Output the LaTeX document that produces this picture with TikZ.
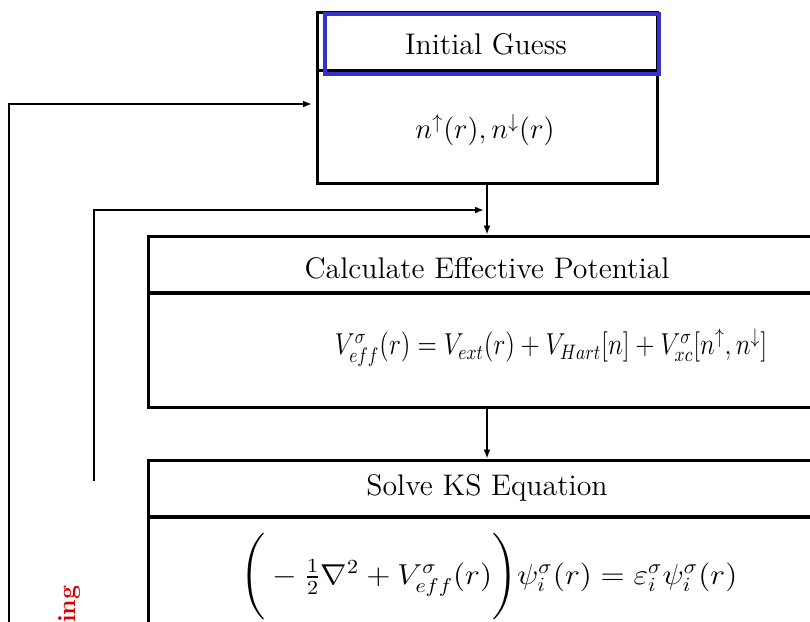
\documentclass[tikz,border=0pt]{standalone}
\usepackage{amsmath}
\usetikzlibrary{arrows.meta}
\begin{document}
\begin{tikzpicture}[x=0.5pt,y=-0.5pt,
  boxframe/.style={draw=black, line width=1.5pt, minimum height=85.5pt, inner sep=0pt},
  divider/.style={line width=2.4pt},
  label/.style={font=\fontsize{14.9}{18}\selectfont, inner sep=0pt},
  conn/.style={line width=0.8pt, -{Latex[length=4.5pt,width=3.5pt]}},
  loopline/.style={line width=1.1pt, -{Latex[length=4.5pt,width=3.5pt]}}]
\useasboundingbox (0,0) rectangle (810,622);
\fill[white] (0,0) rectangle (810,622);

% Initial guess box
\node[boxframe, minimum width=170pt] (ig) at (487,97.5) {};
\draw[line width=1.5pt] (317,70) -- (657,70);
\draw[draw={rgb,255:red,52;green,52;blue,200}, line width=2.2pt] (325,14) rectangle (659,74);
\node[label] (igt) at (486,44) {Initial Guess};
\node[label] (igv) at (485,130) {$n^{\uparrow}(r), n^{\downarrow}(r)$};

% Calculate effective potential box
\node[boxframe, minimum width=339pt] (calc) at (487,321.5) {};
\draw[divider] (148,293) -- (826,293);
\node[label] (calct) at (487,268) {Calculate Effective Potential};
\node[label] (calcv) at (551,348) {\scalebox{0.88}[1.05]{$V^{\sigma}_{eff}(r) = V_{ext}(r) + V_{Hart}[n] + V^{\sigma}_{xc}[n^{\uparrow}, n^{\downarrow}]$}};

% Solve KS equation box
\node[boxframe, minimum width=339pt] (solve) at (487,545.5) {};
\draw[divider] (148,517) -- (826,517);
\node[label] (solvet) at (487,488) {Solve KS Equation};
\node[label] (solvev) at (489,577) {\scalebox{1.1}[1.0]{$\Bigg(-\tfrac{1}{2}\nabla^2 + V^{\sigma}_{eff}(r)\Bigg)\psi^{\sigma}_{i}(r) = \varepsilon^{\sigma}_{i}\psi^{\sigma}_{i}(r)$}};

% connectors
\draw[conn] (ig.south) -- (calc.north);
\draw[conn] (calc.south) -- (solve.north);

\coordinate (a1) at (94,481);
\coordinate (m1) at (484,210);
\draw[loopline] (a1) |- (m1);

\coordinate (a2) at (9,660);
\coordinate (m2) at (312,104);
\draw[loopline] (a2) |- (m2);

\node[rotate=90, anchor=east, text={rgb,255:red,220;green,0;blue,0}, font=\fontsize{12.5}{14}\selectfont\bfseries, inner sep=0pt] (lbl) at (70,585) {ing};
\end{tikzpicture}
\end{document}
